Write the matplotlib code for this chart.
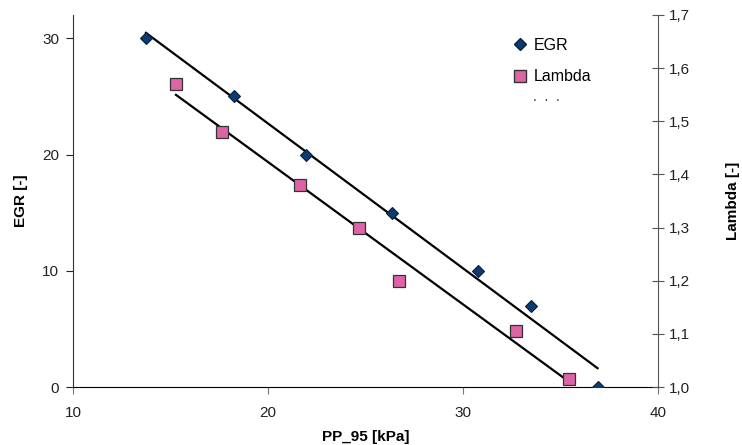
import numpy as np
import matplotlib.pyplot as plt
from matplotlib.lines import Line2D
from matplotlib.ticker import FuncFormatter

plt.rcParams['font.family'] = ['Liberation Sans', 'DejaVu Sans']

# Messwerte
pp95_egr = [13.74, 18.26, 21.95, 26.36, 30.77, 33.5, 36.9]
egr = [30, 25, 20, 15, 10, 7, 0]
pp95_lam = [15.28, 17.64, 21.64, 24.67, 26.72, 32.72, 35.44]
lam = [1.57, 1.48, 1.38, 1.30, 1.20, 1.105, 1.015]

x_ticks = [10, 20, 30, 40]
egr_ticks = [0, 10, 20, 30]
lam_ticks = [1.0, 1.1, 1.2, 1.3, 1.4, 1.5, 1.6, 1.7]

navy = '#0b3b6f'
pink = '#de64a8'
fs = 11

fig = plt.figure(figsize=(7.42, 4.45), dpi=100)
ax = fig.add_axes([0.0984, 0.1303, 0.7884, 0.836])
ax2 = ax.twinx()

# lineare Trendlinien
p1 = np.polyfit(pp95_egr, egr, 1)
xe = np.array([min(pp95_egr), max(pp95_egr)])
ax.plot(xe, np.polyval(p1, xe), color='black', lw=1.6, zorder=2)
p2 = np.polyfit(pp95_lam, lam, 1)
xl = np.array([min(pp95_lam), max(pp95_lam)])
ax2.plot(xl, np.polyval(p2, xl), color='black', lw=1.6, zorder=2)

ax.plot(pp95_egr, egr, 'D', ms=6.5, mfc=navy, mec='#0a2040', mew=0.8, zorder=3)
ax2.plot(pp95_lam, lam, 's', ms=8, mfc=pink, mec='#333333', mew=0.9, zorder=3)

ax.set_xlim(10, 40)
ax.set_ylim(0, 32)
ax2.set_ylim(1.0, 1.7)
ax.set_xticks(x_ticks)
ax.set_yticks(egr_ticks)
ax2.set_yticks(lam_ticks)
ax2.yaxis.set_major_formatter(FuncFormatter(lambda v, p: f'{v:.1f}'.replace('.', ',')))

for a in (ax, ax2):
    a.spines['top'].set_visible(False)
ax.spines['right'].set_visible(False)
ax2.spines['left'].set_visible(False)
ax2.spines['bottom'].set_visible(False)
ax.spines['left'].set_color('#333333')
ax.spines['bottom'].set_color('black')
ax2.spines['right'].set_color('#555555')
ax.tick_params(axis='y', direction='out', length=5, labelsize=fs, colors='#222222', pad=5)
ax.tick_params(axis='x', direction='out', length=5, labelsize=fs, colors='#222222',
               color='#777777', pad=9)
ax2.tick_params(axis='y', direction='inout', length=8, labelsize=fs, colors='#222222',
                color='#555555', pad=4)

ax.set_xlabel('PP_95 [kPa]', fontsize=fs, fontweight='bold', labelpad=7)
ax.set_ylabel('EGR [-]', fontsize=fs, fontweight='bold', labelpad=10)
ax2.set_ylabel('Lambda [-]', fontsize=fs, fontweight='bold', labelpad=26)

handles = [
    Line2D([], [], ls='none', marker='D', ms=6.5, mfc=navy, mec='#0a2040'),
    Line2D([], [], ls='none', marker='s', ms=8, mfc=pink, mec='#333333'),
]
fig.legend(handles, ['EGR', 'Lambda'], loc='upper left',
           bbox_to_anchor=(0.668, 0.948), frameon=False, fontsize=fs + 0.5,
           labelspacing=1.05, handletextpad=0.3, handlelength=1.2)
fig.text(0.718, 0.773, '.  .  .', fontsize=fs - 1, color='#333333')

fig.savefig('out.png', dpi=100)
